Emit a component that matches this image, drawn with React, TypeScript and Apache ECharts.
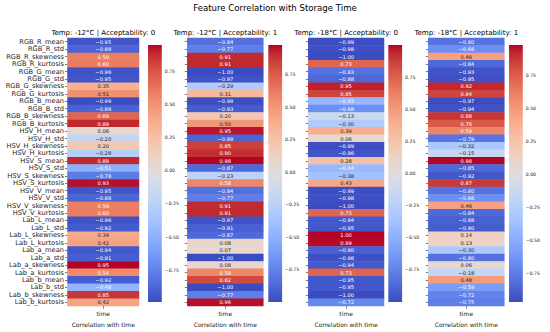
import React, { useEffect, useRef } from 'react';
import * as echarts from 'echarts';

const FEATURES = [
  'RGB_R_mean', 'RGB_R_std', 'RGB_R_skewness', 'RGB_R_kurtosis',
  'RGB_G_mean', 'RGB_G_std', 'RGB_G_skewness', 'RGB_G_kurtosis',
  'RGB_B_mean', 'RGB_B_std', 'RGB_B_skewness', 'RGB_B_kurtosis',
  'HSV_H_mean', 'HSV_H_std', 'HSV_H_skewness', 'HSV_H_kurtosis',
  'HSV_S_mean', 'HSV_S_std', 'HSV_S_skewness', 'HSV_S_kurtosis',
  'HSV_V_mean', 'HSV_V_std', 'HSV_V_skewness', 'HSV_V_kurtosis',
  'Lab_L_mean', 'Lab_L_std', 'Lab_L_skewness', 'Lab_L_kurtosis',
  'Lab_a_mean', 'Lab_a_std', 'Lab_a_skewness', 'Lab_a_kurtosis',
  'Lab_b_mean', 'Lab_b_std', 'Lab_b_skewness', 'Lab_b_kurtosis',
];

const X_CATEGORIES = ['time'];
const MAIN_TITLE = 'Feature Correlation with Storage Time';
const X_NAME = 'Correlation with time';
const PANEL_TITLES = [
  'Temp: -12°C | Acceptability: 0',
  'Temp: -12°C | Acceptability: 1',
  'Temp: -18°C | Acceptability: 0',
  'Temp: -18°C | Acceptability: 1',
];

const CORR_M12_A0 = [
  -0.95, -0.88, 0.59, 0.60, -0.96, -0.95, 0.35, 0.51, -0.99, -0.89, 0.69, 0.89,
  0.06, -0.20, 0.20, -0.28, 0.89, -0.51, -0.78, 0.93, -0.95, -0.88, 0.59, 0.60,
  -0.96, -0.92, 0.39, 0.42, -0.94, -0.91, 0.95, 0.54, -0.92, -0.48, 0.85, 0.42,
];
const CORR_M12_A1 = [
  -0.84, -0.77, 0.91, 0.91, -1.00, -0.97, -0.29, 0.31, -0.99, -0.93, 0.20, 0.50,
  0.95, -0.89, 0.85, 0.90, 0.98, -0.87, -0.23, 0.58, -0.84, -0.77, 0.91, 0.91,
  -0.97, -0.91, -0.87, 0.08, 0.07, -1.00, 0.08, 0.58, 0.82, -1.00, -0.77, 0.96,
];
const CORR_M18_A0 = [
  -0.99, -0.98, -1.00, 0.73, -0.83, -0.88, 0.95, 0.85, -0.45, -0.68, -0.13, -0.30,
  0.39, 0.06, -0.99, -0.96, 0.28, -0.44, -0.38, 0.43, -0.99, -0.98, -1.00, 0.73,
  -0.94, -0.95, 1.00, 0.99, -0.90, -0.98, -0.94, 0.73, -0.95, -0.95, -1.00, -0.72,
];
const CORR_M18_A1 = [
  -0.80, -0.66, 0.46, -0.84, -0.93, -0.95, 0.92, 0.84, -0.97, -0.94, 0.88, 0.76,
  0.59, -0.79, -0.32, -0.15, 0.98, -0.85, -0.92, 0.87, -0.80, -0.66, 0.46, -0.84,
  -0.88, -0.90, 0.14, 0.13, -0.30, -0.80, 0.06, -0.18, 0.48, -0.59, -0.72, -0.75,
];

const COLORBAR_TICKS = [-0.75, -0.5, -0.25, 0, 0.25, 0.5, 0.75];

// matplotlib "coolwarm" colormap, sampled evenly from 0 to 1
const COOLWARM = [
  '#3b4cc0', '#445acc', '#4d68d7', '#5775e1', '#6282ea', '#6c8ef1', '#779af7', '#82a5fb',
  '#8db0fe', '#98b9ff', '#a3c2ff', '#aec9fd', '#b8d0f9', '#c2d5f4', '#ccd9ee', '#d5dbe6',
  '#dddddd', '#e5d8d1', '#ecd3c5', '#f1ccb8', '#f5c4ac', '#f7bba0', '#f7b194', '#f7a687',
  '#f49a7b', '#f18d6f', '#ec7f63', '#e57058', '#de604d', '#d55042', '#cb3e38', '#c0282f',
  '#b40426',
];

const PANELS = [CORR_M12_A0, CORR_M12_A1, CORR_M18_A0, CORR_M18_A1];

// layout (pixels)
const FONT = 'DejaVu Sans';
const HEAT_LEFT = [67.5, 187.3, 308.3, 428.3];
const HEAT_WIDTH = [71.5, 76, 75.7, 76];
const HEAT_TOP = 38;
const HEAT_HEIGHT = 270;
const CB_LEFT = [148, 268.3, 388.3, 509];
const CB_WIDTH = 13.8;
const CB_TOP = 45;
const CB_HEIGHT = 257;

const fmt = (v: number) => (v < 0 ? '\u2212' : '') + Math.abs(v).toFixed(2);

export default function App() {
  const ref = useRef<HTMLDivElement>(null);

  useEffect(() => {
    if (!ref.current) return;
    const chart = echarts.init(ref.current, undefined, { renderer: 'svg' });

    const grids: any[] = [];
    const xAxes: any[] = [];
    const yAxes: any[] = [];
    const visualMaps: any[] = [];
    const series: any[] = [];
    const titles: any[] = [
      {
        text: MAIN_TITLE,
        left: 275,
        textAlign: 'center',
        top: 3.2,
        padding: 0,
        textStyle: { fontSize: 8.6, fontWeight: 'normal', color: '#000', fontFamily: FONT },
      },
    ];

    const gradStops = COOLWARM.map((c, i) => ({ offset: i / (COOLWARM.length - 1), color: c })).reverse()
      .map((s) => ({ offset: 1 - s.offset, color: s.color }));

    PANELS.forEach((vals, p) => {
      const vmin = Math.min(...vals);
      const vmax = Math.max(...vals);
      titles.push({
        text: PANEL_TITLES[p],
        left: HEAT_LEFT[p] + HEAT_WIDTH[p] / 2,
        textAlign: 'center',
        top: 29.2,
        padding: 0,
        textStyle: { fontSize: 7, fontWeight: 'normal', color: '#000', fontFamily: FONT },
      });

      // heatmap grid
      grids.push({ left: HEAT_LEFT[p], top: HEAT_TOP, width: HEAT_WIDTH[p], height: HEAT_HEIGHT });
      xAxes.push({
        type: 'category',
        gridIndex: p,
        data: X_CATEGORIES,
        position: 'bottom',
        axisLine: { show: false },
        axisTick: { show: true, alignWithLabel: true, length: 2.5, lineStyle: { color: '#222', width: 0.6 } },
        axisLabel: { fontSize: 6, color: '#222', margin: 4, fontFamily: FONT },
        splitLine: { show: false },
        name: X_NAME,
        nameLocation: 'middle',
        nameGap: 11.5,
        nameTextStyle: { fontSize: 6, color: '#222', fontFamily: FONT },
      });
      yAxes.push({
        type: 'category',
        gridIndex: p,
        data: FEATURES,
        inverse: true,
        axisLine: { show: false },
        axisTick: { show: true, alignWithLabel: true, length: 2.5, lineStyle: { color: '#222', width: 0.6 } },
        axisLabel: {
          show: p === 0,
          interval: 0,
          fontSize: 6.7,
          color: '#222',
          margin: 3.5,
          fontFamily: FONT,
        },
        splitLine: { show: false },
      });
      visualMaps.push({
        type: 'continuous',
        show: false,
        seriesIndex: p,
        dimension: 2,
        min: vmin,
        max: vmax,
        inRange: { color: COOLWARM },
      });
      series.push({
        type: 'heatmap',
        xAxisIndex: p,
        yAxisIndex: p,
        data: vals.map((v, i) => {
          const n = (v - vmin) / (vmax - vmin);
          const light = n < 0.3 || n > 0.78;
          return {
            value: [0, i, v],
            label: { color: light ? '#ffffff' : '#262626' },
          };
        }),
        label: {
          show: true,
          formatter: (prm: any) => fmt(prm.value[2]),
          fontSize: 5.2,
          fontFamily: FONT,
        },
        emphasis: { disabled: true },
        progressive: 0,
      });
    });

    // colorbars
    PANELS.forEach((vals, p) => {
      const vmin = Math.min(...vals);
      const vmax = Math.max(...vals);
      const gi = 4 + p;
      grids.push({ left: CB_LEFT[p], top: CB_TOP, width: CB_WIDTH, height: CB_HEIGHT });
      xAxes.push({
        type: 'value',
        gridIndex: gi,
        min: 0,
        max: 1,
        show: false,
      });
      yAxes.push({
        type: 'value',
        gridIndex: gi,
        min: vmin,
        max: vmax,
        position: 'right',
        axisLine: { show: false },
        splitLine: { show: false },
        axisTick: {
          show: true,
          length: 2.5,
          customValues: COLORBAR_TICKS,
          lineStyle: { color: '#222', width: 0.6 },
        },
        axisLabel: {
          customValues: COLORBAR_TICKS,
          formatter: (v: number) => fmt(v),
          fontSize: 4.6,
          color: '#222',
          margin: 3,
          fontFamily: FONT,
        },
      });
      series.push({
        type: 'custom',
        xAxisIndex: gi,
        yAxisIndex: gi,
        data: [[0, vmax, 1, vmin]],
        encode: { x: [0, 2], y: [1, 3] },
        renderItem: (params: any, api: any) => {
          const a = api.coord([api.value(0), api.value(1)]);
          const b = api.coord([api.value(2), api.value(3)]);
          return {
            type: 'rect',
            shape: { x: a[0], y: a[1], width: b[0] - a[0], height: b[1] - a[1] },
            style: {
              fill: new echarts.graphic.LinearGradient(0, 0, 0, 1, gradStops),
              stroke: null,
            },
          };
        },
        silent: true,
      });
    });

    chart.setOption({
      animation: false,
      backgroundColor: '#ffffff',
      textStyle: { fontFamily: FONT },
      title: titles,
      grid: grids,
      xAxis: xAxes,
      yAxis: yAxes,
      visualMap: visualMaps,
      series,
    });

    return () => chart.dispose();
  }, []);

  return (
    <div
      ref={ref}
      style={{ position: 'absolute', left: 0, top: 0, width: 550, height: 332 }}
    />
  );
}
